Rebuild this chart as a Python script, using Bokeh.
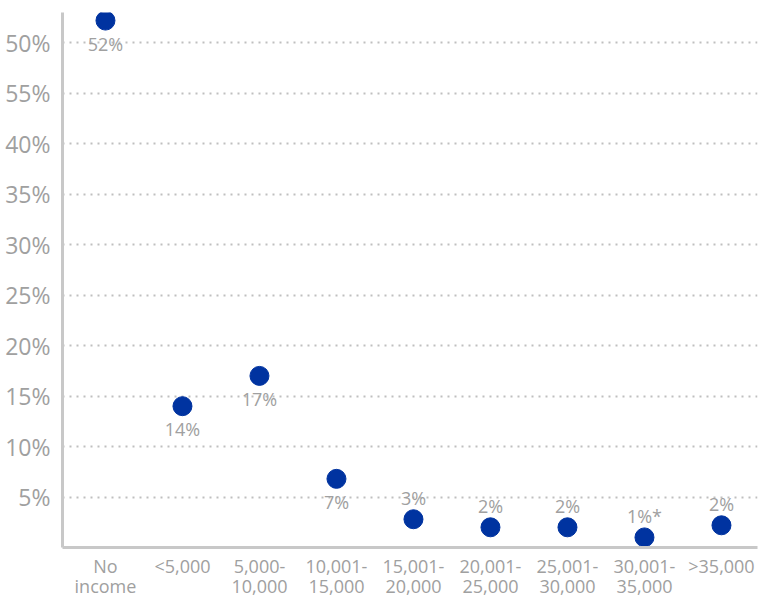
from bokeh.plotting import figure
from bokeh.models import FixedTicker, ColumnDataSource
from bokeh.core.properties import value
from bokeh.embed import file_html
from bokeh.resources import INLINE

categories = ["No\nincome", "<5,000", "5,000-\n10,000", "10,001-\n15,000", "15,001-\n20,000",
              "20,001-\n25,000", "25,001-\n30,000", "30,001-\n35,000", ">35,000"]
values = [52.2, 14.0, 17.0, 6.8, 2.8, 2.0, 2.0, 1.0, 2.2]
labels = ["52%", "14%", "17%", "7%", "3%", "2%", "2%", "1%*", "2%"]
label_side = ["below", "below", "below", "below", "above", "above", "above", "above", "above"]
y_tick_values = [5, 10, 15, 20, 25, 30, 35, 40, 45, 50]
y_tick_labels = ["5%", "10%", "15%", "20%", "25%", "30%", "35%", "40%", "55%", "50%"]

GRAY = "#A0A0A0"
BLUE = "#0033A0"
FONT = "Open Sans"

xs = list(range(len(categories)))

p = figure(width=758, height=601, output_backend="svg", toolbar_location=None,
           x_range=(-0.558, 8.468), y_range=(0, 53),
           min_border_left=62, min_border_top=12, min_border_bottom=53, min_border_right=1)
p.outline_line_color = None
p.background_fill_color = "white"

p.xgrid.grid_line_color = None
p.ygrid.ticker = FixedTicker(ticks=y_tick_values)
p.ygrid.grid_line_color = "#BFBFBF"
p.ygrid.grid_line_dash = "2 5"
p.ygrid.grid_line_width = 2

p.yaxis.ticker = FixedTicker(ticks=y_tick_values)
p.yaxis.major_label_overrides = {v: l for v, l in zip(y_tick_values, y_tick_labels)}
p.xaxis.ticker = FixedTicker(ticks=xs)
p.xaxis.major_label_overrides = {i: c for i, c in zip(xs, categories)}

for ax in (p.xaxis, p.yaxis):
    ax.axis_line_color = "#C8C8C8"
    ax.axis_line_width = 3
    ax.major_tick_line_color = None
    ax.minor_tick_line_color = None
    ax.major_label_text_color = GRAY
    ax.major_label_text_font = FONT
p.yaxis.major_label_text_font_size = "23px"
p.yaxis.major_label_standoff = 6
p.xaxis.major_label_text_font_size = "18px"
p.xaxis.major_label_text_line_height = 0.86
p.xaxis.major_label_standoff = 0

src = ColumnDataSource(dict(x=xs, y=values, label=labels))
p.scatter("x", "y", source=src, size=19, fill_color=BLUE, line_color=BLUE)

below = ColumnDataSource(dict(
    x=[x for x, s in zip(xs, label_side) if s == "below"],
    y=[v for v, s in zip(values, label_side) if s == "below"],
    label=[l for l, s in zip(labels, label_side) if s == "below"]))
above = ColumnDataSource(dict(
    x=[x for x, s in zip(xs, label_side) if s == "above"],
    y=[v for v, s in zip(values, label_side) if s == "above"],
    label=[l for l, s in zip(labels, label_side) if s == "above"]))

p.text("x", "y", text="label", source=below, text_align="center", text_baseline="top",
       y_offset=11, text_color=GRAY, text_font=value(FONT), text_font_size="18px")
p.text("x", "y", text="label", source=above, text_align="center", text_baseline="bottom",
       y_offset=-9, text_color=GRAY, text_font=value(FONT), text_font_size="18px")

open("out.html", "w").write(file_html(p, INLINE))
